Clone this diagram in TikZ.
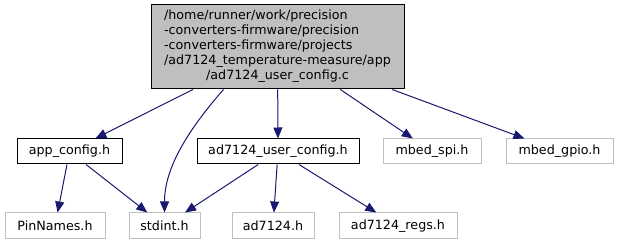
\documentclass[tikz,border=0pt]{standalone}
\usepackage{fontspec}
\setmainfont{DejaVu Sans}
\usetikzlibrary{arrows.meta,calc}
\definecolor{edgeblue}{HTML}{191970}
\definecolor{fadeline}{HTML}{BFBFBF}
\definecolor{rootfill}{HTML}{BFBFBF}

\begin{document}
\begin{tikzpicture}[x=1pt,y=-1pt,
  every node/.style={font=\fontsize{12.7}{15}\selectfont, inner sep=0pt,
    minimum height=25pt, line width=1pt},
  filebox/.style={draw=black},
  extbox/.style={draw=fadeline, minimum height=26pt},
  dep/.style={draw=edgeblue, line width=1pt,
    -{Triangle[length=11pt,width=9pt]}, edgeblue}
]
\useasboundingbox (0,0) rectangle (618,245);

% root file
\node[draw=black, fill=rootfill, minimum width=253pt, minimum height=84pt]
  (root) at (277.5,47) {\begin{tabular}{@{}l@{}}
    /home/runner/work/precision\\
    -converters-firmware/precision\\
    -converters-firmware/projects\\
    /ad7124\_temperature-measure/app\\
    \multicolumn{1}{@{}c@{}}{/ad7124\_user\_config.c}
  \end{tabular}};

% second level
\node[filebox, minimum width=105pt] (appcfg) at (69.5,151.5) {app\_config.h};
\node[filebox, minimum width=162pt] (usercfg) at (278,151.5) {ad7124\_user\_config.h};
\node[extbox, minimum width=98pt, minimum height=25pt] (spi) at (432,151.5) {mbed\_spi.h};
\node[extbox, minimum width=107pt, minimum height=25pt] (gpio) at (559.5,151.5) {mbed\_gpio.h};

% third level
\node[extbox, minimum width=100pt] (pins) at (55,226) {PinNames.h};
\node[extbox, minimum width=71pt] (stdint) at (164.5,226) {stdint.h};
\node[extbox, minimum width=82pt] (ad7124) at (273,226) {ad7124.h};
\node[extbox, minimum width=118pt] (regs) at (398,226) {ad7124\_regs.h};

% dependencies
\draw[dep] (root) -- (appcfg);
\draw[dep] ($(root.south west)+(73,0)$) .. controls +(-35,40) and +(0,-45) .. (stdint.north);
\draw[dep] (root) -- (usercfg);
\draw[dep] (root) -- (spi);
\draw[dep] (root) -- (gpio);
\draw[dep] (appcfg) -- (pins);
\draw[dep] (appcfg) -- (stdint);
\draw[dep] (usercfg) -- (stdint);
\draw[dep] (usercfg) -- (ad7124);
\draw[dep] (usercfg) -- (regs);
\end{tikzpicture}
\end{document}
